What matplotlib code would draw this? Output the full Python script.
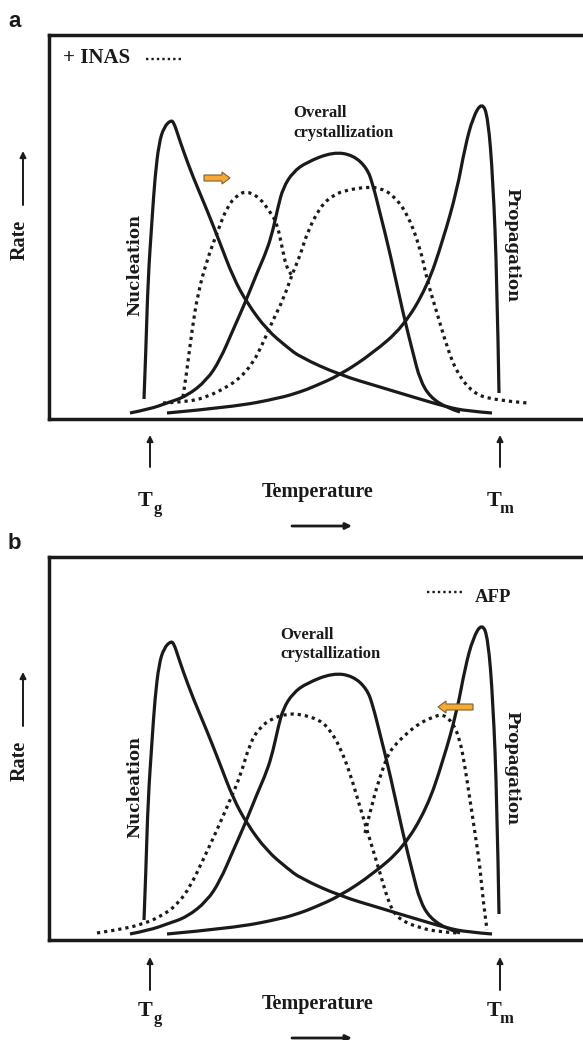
import matplotlib.pyplot as plt
from matplotlib.patches import FancyArrow, PathPatch
from matplotlib.path import Path

# curve readings (temperature, rate) - arbitrary units
nuc_t = [95, 97, 99, 103, 106, 110, 115, 122, 125, 129, 134, 144, 158, 171, 184,
         198, 218, 238, 251, 291, 331, 364, 398, 418, 443]
nuc_r = [20, 72, 139, 199, 242, 276, 292, 299, 296, 284, 269, 242, 209, 176, 142,
         116, 89, 72, 62, 44, 32, 22, 12, 8, 6]

ovr_t = [81, 101, 118, 138, 158, 171, 184, 196, 208, 218, 224, 229, 234, 244, 258,
         284, 304, 318, 324, 331, 341, 354, 364, 371, 381, 398, 411]
ovr_r = [6, 10, 16, 23, 39, 59, 89, 116, 146, 169, 189, 212, 231, 247, 257,
         267, 264, 251, 234, 206, 166, 106, 66, 39, 22, 11, 7]

prp_t = [118, 184, 231, 251, 264, 291, 324, 354, 378, 394, 408, 416, 424, 433, 439,
         444, 448, 450]
prp_r = [6, 12, 21, 27, 32, 44, 66, 92, 132, 179, 229, 272, 302, 317, 302,
         239, 139, 26]

# panel a: + INAS (dotted)
inas1_t = [134, 138, 143, 149, 158, 168, 178, 188, 198, 211, 221, 228, 233, 238, 244]
inas1_r = [22, 49, 89, 126, 159, 186, 212, 224, 228, 221, 207, 196, 172, 149, 142]
inas2_t = [114, 138, 158, 178, 191, 204, 214, 224, 234, 244, 251, 258, 271, 284, 298,
           318, 331, 344, 358, 371, 378, 388, 398, 408, 424, 444, 478]
inas2_r = [16, 17, 22, 32, 41, 56, 76, 99, 119, 147, 163, 186, 212, 224, 229,
           232, 231, 224, 206, 172, 139, 106, 72, 46, 26, 19, 16]

# panel b: AFP (dotted)
afp1_t = [48, 68, 91, 111, 128, 141, 154, 168, 181, 191, 201, 211, 224, 238, 251,
          271, 281, 291, 301, 311, 321, 331, 341, 351, 371, 391, 409]
afp1_r = [7, 10, 15, 23, 35, 53, 80, 110, 140, 163, 197, 213, 222, 226, 226,
          220, 210, 193, 167, 133, 100, 67, 33, 20, 12, 8, 7]
afp2_t = [316, 324, 331, 338, 344, 358, 371, 384, 394, 404, 411, 416, 421, 426, 431,
          434, 438]
afp2_r = [107, 140, 163, 183, 193, 207, 217, 223, 226, 217, 200, 173, 140, 107, 73,
          40, 10]

SERIF = 'Liberation Serif'
SLAB = 'DejaVu Serif'
INK = '#1a1a1a'
LW = 2.3
DOT = (0, (1, 1.25))

fig = plt.figure(figsize=(5.83, 10.4), dpi=100)


def curve(ax, t, r, ls='-'):
	# read points used as quadratic bezier controls so the line comes out smooth
	pts = list(zip(t, r))
	verts = [pts[0]]
	codes = [Path.MOVETO]
	for i in range(1, len(pts) - 1):
		nxt = pts[i + 1] if i == len(pts) - 2 else (
			(pts[i][0] + pts[i + 1][0]) / 2, (pts[i][1] + pts[i + 1][1]) / 2)
		verts += [pts[i], nxt]
		codes += [Path.CURVE3, Path.CURVE3]
	ax.add_patch(PathPatch(Path(verts, codes), fill=False, ec=INK, lw=LW,
						   linestyle=ls, capstyle='butt', joinstyle='round'))


def panel(bottom_px, height_px):
	ax = fig.add_axes([49 / 583, 1 - bottom_px / 1040, 551 / 583, height_px / 1040])
	ax.set_xlim(0, 551)
	ax.set_ylim(0, height_px)
	ax.set_xticks([])
	ax.set_yticks([])
	for s in ax.spines.values():
		s.set_linewidth(2.5)
		s.set_color(INK)
	for t, r in [(nuc_t, nuc_r), (ovr_t, ovr_r), (prp_t, prp_r)]:
		curve(ax, t, r)
	return ax


def txt(ax, x, y, s, **kw):
	kw.setdefault('family', SERIF)
	kw.setdefault('weight', 'bold')
	kw.setdefault('color', INK)
	ax.text(x, y, s, clip_on=False, **kw)


def arrow(ax, x0, y0, x1, y1, lw=1.4):
	ax.annotate('', xy=(x1, y1), xytext=(x0, y0), annotation_clip=False,
				arrowprops=dict(arrowstyle='-|>', lw=lw, color=INK, mutation_scale=9,
								shrinkA=0, shrinkB=0))


def common(ax, letter, ytxt, ytemp, yarr, ylab):
	txt(ax, 86, ylab[0], 'Nucleation', family=SLAB, fontsize=12, rotation=90,
		ha='center', va='center')
	txt(ax, 463, ylab[1], 'Propagation', family=SLAB, fontsize=12, rotation=270,
		ha='center', va='center')
	txt(ax, -29, 179, 'Rate', fontsize=14.5, rotation=90, ha='center', va='center')
	arrow(ax, -26, 214, -26, 268)
	# T_g / T_m markers
	arrow(ax, 101, yarr[0], 101, yarr[1])
	arrow(ax, 451, yarr[0], 451, yarr[1])
	txt(ax, 89, ytxt, 'T', fontsize=16)
	txt(ax, 105, ytxt - 7, 'g', fontsize=12)
	txt(ax, 438, ytxt, 'T', fontsize=16)
	txt(ax, 451, ytxt - 7, 'm', fontsize=12)
	txt(ax, 269, ytemp, 'Temperature', fontsize=14.5, ha='center')
	arrow(ax, 243, ytemp - 29, 303, ytemp - 29, lw=2)
	txt(ax, -41, ax.get_ylim()[1] + 8, letter, family='Liberation Sans', fontsize=16)


# ---- panel a ----
axa = panel(419, 384)
curve(axa, inas1_t, inas1_r, DOT)
curve(axa, inas2_t, inas2_r, DOT)
common(axa, 'a', -87, -78, (-48, -16), (154, 174))
txt(axa, 244, 302, 'Overall', fontsize=12)
txt(axa, 244, 282, 'crystallization', fontsize=12)
txt(axa, 14, 356, '+ INAS', fontsize=15)
axa.plot([97, 135], [360, 360], color=INK, lw=1.7, linestyle=(0, (1, 1.3)),
		 dash_capstyle='butt', clip_on=False)
axa.add_patch(FancyArrow(155, 241, 26, 0, width=6, head_width=12, head_length=8,
						 length_includes_head=True, fc='#f6a935', ec='#7d6130', lw=0.8))

# ---- panel b ----
axb = panel(940, 383)
curve(axb, afp1_t, afp1_r, DOT)
curve(axb, afp2_t, afp2_r, DOT)
common(axb, 'b', -76, -69, (-50, -17), (153, 172))
txt(axb, 231, 301, 'Overall', fontsize=12)
txt(axb, 231, 282, 'crystallization', fontsize=12)
axb.plot([378, 414], [348, 348], color=INK, lw=1.7, linestyle=(0, (1, 1.3)),
		 dash_capstyle='butt')
txt(axb, 426, 338, 'AFP', fontsize=13.5)
axb.add_patch(FancyArrow(424, 233, -35, 0, width=6, head_width=12, head_length=8,
						 length_includes_head=True, fc='#f6a935', ec='#7d6130', lw=0.8))

fig.savefig('out.png', dpi=100)
